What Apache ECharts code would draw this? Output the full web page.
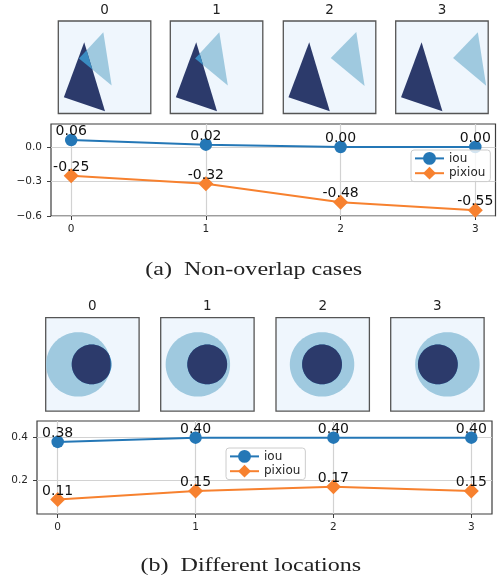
<!DOCTYPE html>
<html><head><meta charset="utf-8">
<script src="https://cdn.jsdelivr.net/npm/echarts@6/dist/echarts.min.js"></script>
<style>html,body{margin:0;padding:0;background:#fff}#c{width:497px;height:581px}</style>
</head><body><div id="c"></div>
<script>
// ---------- data ----------
const imageTitles = ['0', '1', '2', '3'];
const xValues = [0, 1, 2, 3];
const xTicks = [0, 1, 2, 3];
const iouA = [0.06, 0.02, 0.00, 0.00];
const pixiouA = [-0.25, -0.32, -0.48, -0.55];
const iouB = [0.38, 0.40, 0.40, 0.40];
const pixiouB = [0.11, 0.15, 0.17, 0.15];
const yTicksA = [-0.6, -0.3, 0.0];
const yTicksB = [0.2, 0.4];
const legendNames = ['iou', 'pixiou'];
const captionA = '(a)  Non-overlap cases';
const captionB = '(b)  Different locations';
// image contents, in image units (0..100, y pointing down)
const darkTriangles = [
  [[28, 23], [6, 82.5], [50.5, 97.5]],
  [[28, 23], [6, 82.5], [50.5, 97.5]],
  [[28, 23], [5.6, 82.5], [50.3, 97.5]],
  [[28, 23], [5.8, 82.5], [50.5, 97.5]]
];
const lightTriangles = [
  [[48.7, 12.2], [22.3, 40.5], [57.7, 69.6]],
  [[53.0, 12.2], [26.8, 40.6], [62.2, 69.6]],
  [[78.9, 11.8], [51.3, 40.1], [87.9, 70.2]],
  [[88.8, 12.2], [62.0, 40.1], [97.8, 69.9]]
];
const lightCircleX = [34.9, 39.8, 49.3, 60.7];
const darkCircleX = [49.2, 49.8, 49.3, 50.5];
const circleY = 50;
const lightCircleR = 34.5;
const darkCircleR = 21.3;

// ---------- style / layout ----------
const BLUE = '#2477b6', ORANGE = '#f7812f';
const BG = '#eff6fd', LIGHT = '#9fc9df', MEDIUM = '#3a8bc1', DARK = '#2c3a6b';
const FONT = 'DejaVu Sans';
const boxA = {lefts: [58.3, 170.3, 283.3, 395.7], top: 21, size: 92.5, titleY: 10};
const boxB = {lefts: [45.7, 160.7, 276, 390.7], top: 317.7, size: 93.4, titleY: 306.7};

function clipPoly(subject, clip) {
  let area = 0;
  for (let i = 0; i < clip.length; i++) {
    const a = clip[i], b = clip[(i + 1) % clip.length];
    area += a[0] * b[1] - b[0] * a[1];
  }
  const s = area > 0 ? 1 : -1;
  const inside = (p, a, b) => s * ((b[0] - a[0]) * (p[1] - a[1]) - (b[1] - a[1]) * (p[0] - a[0])) >= 0;
  const inter = (p, q, a, b) => {
    const d1 = [q[0] - p[0], q[1] - p[1]], d2 = [b[0] - a[0], b[1] - a[1]];
    const den = d1[0] * d2[1] - d1[1] * d2[0];
    const t = ((a[0] - p[0]) * d2[1] - (a[1] - p[1]) * d2[0]) / den;
    return [p[0] + t * d1[0], p[1] + t * d1[1]];
  };
  let out = subject.slice();
  for (let i = 0; i < clip.length && out.length; i++) {
    const a = clip[i], b = clip[(i + 1) % clip.length];
    const input = out; out = [];
    for (let j = 0; j < input.length; j++) {
      const cur = input[j], prev = input[(j + input.length - 1) % input.length];
      if (inside(cur, a, b)) {
        if (!inside(prev, a, b)) out.push(inter(prev, cur, a, b));
        out.push(cur);
      } else if (inside(prev, a, b)) {
        out.push(inter(prev, cur, a, b));
      }
    }
  }
  return out;
}
function circlePoly(cx, cy, r) {
  const pts = [];
  for (let k = 0; k < 120; k++) {
    const t = k / 120 * Math.PI * 2;
    pts.push([cx + r * Math.cos(t), cy + r * Math.sin(t)]);
  }
  return pts;
}

const grids = [], xAxes = [], yAxes = [], series = [], graphics = [];
function addImage(box, i, shapes) {
  const gi = grids.length;
  grids.push({left: box.lefts[i], top: box.top, width: box.size, height: box.size,
    show: true, backgroundColor: BG, borderColor: '#555', borderWidth: 1.3});
  xAxes.push({gridIndex: gi, type: 'value', min: 0, max: 100, show: false});
  yAxes.push({gridIndex: gi, type: 'value', min: 0, max: 100, inverse: true, show: false});
  series.push({
    type: 'custom', xAxisIndex: gi, yAxisIndex: gi, data: [[0, 0]], clip: true, silent: true,
    renderItem: (params, api) => ({
      type: 'group',
      children: shapes.filter(s => s.pts.length).map(s => ({
        type: 'polygon', shape: {points: s.pts.map(p => api.coord(p))},
        style: {fill: s.color}
      }))
    })
  });
  graphics.push({type: 'text', x: box.lefts[i] + box.size / 2, y: box.titleY,
    style: {text: imageTitles[i], align: 'center', verticalAlign: 'middle',
      font: '13.5px "DejaVu Sans"', fill: '#222'}});
}
for (let i = 0; i < 4; i++) {
  addImage(boxA, i, [
    {pts: lightTriangles[i], color: LIGHT},
    {pts: darkTriangles[i], color: DARK},
    {pts: clipPoly(lightTriangles[i], darkTriangles[i]), color: MEDIUM}
  ]);
}
for (let i = 0; i < 4; i++) {
  const light = circlePoly(lightCircleX[i], circleY, lightCircleR);
  const dark = circlePoly(darkCircleX[i], circleY, darkCircleR);
  addImage(boxB, i, [
    {pts: light, color: LIGHT},
    {pts: dark, color: MEDIUM},
    {pts: clipPoly(dark, light), color: DARK}
  ]);
}

const tickFmt = v => (Math.abs(v) < 1e-9 ? 0 : v).toFixed(1).replace('-', '\u2212');
function addLinePanel(rect, yMin, yMax, yTicks, iou, pix, legendPos) {
  const gi = grids.length;
  grids.push(Object.assign({show: true, borderColor: '#3d3d3d', borderWidth: 1.2}, rect));
  const common = {
    axisLine: {show: false, onZero: false},
    axisTick: {show: true, length: 4, lineStyle: {color: '#3d3d3d', width: 1}},
    splitLine: {show: true, lineStyle: {color: '#d2d2d2', width: 1.2}}
  };
  xAxes.push(Object.assign({}, common, {gridIndex: gi, type: 'value', min: -0.15, max: 3.15, position: 'bottom',
    axisTick: Object.assign({}, common.axisTick, {customValues: xTicks}),
    axisLabel: {customValues: xTicks, margin: 8, fontSize: 10.5, color: '#262626', fontFamily: FONT}}));
  yAxes.push(Object.assign({}, common, {gridIndex: gi, type: 'value', min: yMin, max: yMax, position: 'left',
    axisTick: Object.assign({}, common.axisTick, {customValues: yTicks}),
    axisLabel: {customValues: yTicks, margin: 9, fontSize: 10.5, color: '#262626', fontFamily: FONT, formatter: tickFmt}}));
  const lbl = {show: true, position: 'inside', offset: [0, -8.5], fontSize: 14, color: '#111',
    fontFamily: FONT, formatter: p => p.value[1].toFixed(2)};
  series.push({type: 'line', name: legendNames[0], xAxisIndex: gi, yAxisIndex: gi,
    data: xValues.map((x, k) => [x, iou[k]]), symbol: 'circle', symbolSize: 12.5,
    lineStyle: {width: 2, color: BLUE}, itemStyle: {color: BLUE}, label: lbl, z: 3});
  series.push({type: 'line', name: legendNames[1], xAxisIndex: gi, yAxisIndex: gi,
    data: xValues.map((x, k) => [x, pix[k]]), symbol: 'diamond', symbolSize: 15,
    lineStyle: {width: 2, color: ORANGE}, itemStyle: {color: ORANGE}, label: lbl, z: 3});
  return {
    data: legendNames, left: legendPos[0], top: legendPos[1], orient: 'vertical',
    itemWidth: 29, itemHeight: 16, itemGap: 2, padding: [2, 5, 2, 3],
    backgroundColor: 'rgba(255,255,255,0.8)', borderColor: '#cccccc', borderWidth: 1, borderRadius: 3,
    textStyle: {fontFamily: FONT, fontSize: 12, color: '#262626'}, selectedMode: false
  };
}
const legA = addLinePanel({left: 51, top: 124, width: 444.5, height: 92}, -0.6, 0.2, yTicksA, iouA, pixiouA, [411, 150]);
const legB = addLinePanel({left: 37, top: 421, width: 455, height: 93}, 0.042, 0.478, yTicksB, iouB, pixiouB, [226, 448]);

graphics.push({type: 'text', x: 253.7, y: 270.6, scaleX: 1.3,
  style: {text: captionA, align: 'center', verticalAlign: 'middle', font: '18.5px "Liberation Serif"', fill: '#222'}});
graphics.push({type: 'text', x: 250.8, y: 566.3, scaleX: 1.3,
  style: {text: captionB, align: 'center', verticalAlign: 'middle', font: '18.5px "Liberation Serif"', fill: '#222'}});

const chart = echarts.init(document.getElementById('c'), null, {renderer: 'canvas'});
chart.setOption({
  animation: false,
  grid: grids, xAxis: xAxes, yAxis: yAxes, series: series,
  legend: [legA, legB],
  graphic: graphics
});
</script></body></html>
